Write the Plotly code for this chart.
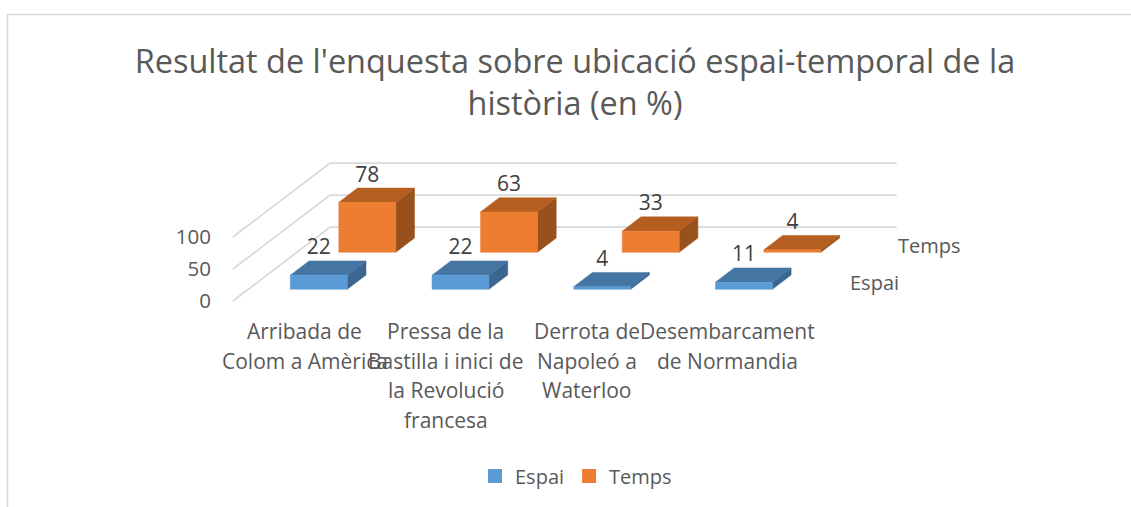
import plotly.graph_objects as go

TITLE = "Resultat de l'enquesta sobre ubicació espai-temporal de la<br>història (en %)"
categories = [
    ["Arribada de", "Colom a Amèrica"],
    ["Pressa de la", "Bastilla i inici de", "la Revolució", "francesa"],
    ["Derrota de", "Napoleó a", "Waterloo"],
    ["Desembarcament", "de Normandia"],
]
series_names = ["Espai", "Temps"]
espai = [22, 22, 4, 11]
temps = [78, 63, 33, 4]
value_ticks = [0, 50, 100]

FONT = "Open Sans"
GREY = "#595959"
FRONT = {"Espai": "#5B9BD5", "Temps": "#ED7D31"}
TOP = {"Espai": "#4475A3", "Temps": "#B45E20"}
SIDE = {"Espai": "#3A668F", "Temps": "#98511C"}
GRID = "#D9D9D9"

W, H = 1131, 507
PX_PER_CAT, PX_PER_VAL = 141.7, 0.64
ORIGIN_X, ORIGIN_Y = 233, 301
DEPTH_DX, DEPTH_DY = 97 / PX_PER_CAT, 74 / PX_PER_VAL
BAR_W, BAR_D = 0.402, 0.193


def proj(cat, depth, value):
    return cat + depth * DEPTH_DX, value + depth * DEPTH_DY


def poly(points, color, line=None):
    xy = [proj(*p) for p in points]
    return go.Scatter(
        x=[p[0] for p in xy] + [xy[0][0]], y=[p[1] for p in xy] + [xy[0][1]],
        mode="lines", fill="toself", fillcolor=color,
        line=dict(color=line or color, width=0.5),
        showlegend=False, hoverinfo="skip",
    )


fig = go.Figure()
n = len(categories)

for v in value_ticks:
    xy = [proj(0, 0, v), proj(0, 1, v), proj(n, 1, v)]
    fig.add_trace(go.Scatter(x=[p[0] for p in xy], y=[p[1] for p in xy], mode="lines",
                             line=dict(color=GRID, width=1.75), showlegend=False, hoverinfo="skip"))

label_x, label_y, label_t = [], [], []
for s_i, (name, values) in reversed(list(enumerate(zip(series_names, [espai, temps])))):
    d0 = (s_i + 0.5) / 2 - BAR_D / 2 + 0.005
    d1 = d0 + BAR_D
    for c, val in enumerate(values):
        x0 = c + 0.5 - BAR_W / 2 - 0.003
        x1 = x0 + BAR_W
        fig.add_trace(poly([(x1, d0, 0), (x1, d1, 0), (x1, d1, val), (x1, d0, val)], SIDE[name]))
        fig.add_trace(poly([(x0, d0, val), (x1, d0, val), (x1, d1, val), (x0, d1, val)], TOP[name]))
        fig.add_trace(poly([(x0, d0, 0), (x1, d0, 0), (x1, d0, val), (x0, d0, val)], FRONT[name]))
        lx, _ = proj((x0 + x1) / 2, d0, val)
        _, ly = proj(x0, d1, val)
        label_x.append(lx)
        label_y.append(ly + 18.3)
        label_t.append(str(val))

fig.add_trace(go.Scatter(x=label_x, y=label_y, text=label_t, mode="text", textposition="middle center",
                         textfont=dict(family=FONT, size=21, color="#404040"), showlegend=False, hoverinfo="skip"))

for name in series_names:
    fig.add_trace(go.Scatter(x=[None], y=[None], mode="markers", name=name,
                             marker=dict(symbol="square", size=14, color=FRONT[name])))

annotations = []
LINE_PX = 29.5
for c, lines in enumerate(categories):
    for i, text in enumerate(lines):
        annotations.append(dict(x=c + 0.5, y=0, xref="x", yref="y", text=text, showarrow=False,
                                xanchor="center", yanchor="middle", xshift=1 - 0.8 * c,
                                yshift=-(30 + i * LINE_PX),
                                font=dict(family=FONT, size=21, color=GREY)))
for s_i, name in enumerate(series_names):
    px, py = proj(n, (s_i + 0.5) / 2, 0)
    annotations.append(dict(x=px, y=py, xref="x", yref="y", text=name, showarrow=False,
                            xanchor="left", yanchor="middle", xshift=23.5,
                            font=dict(family=FONT, size=20, color=GREY)))

frame = dict(type="path", xref="paper", yref="paper",
             path=f"M {7.5 / W} 0 L {7.5 / W} {1 - 14.5 / H} L 1 {1 - 14.5 / H}",
             line=dict(color=GRID, width=1.5))

fig.update_layout(
    width=W, height=H, margin=dict(l=0, r=0, t=0, b=0), autosize=False,
    paper_bgcolor="white", plot_bgcolor="white", annotations=annotations, shapes=[frame],
    title=dict(text=TITLE, x=575 / W, xanchor="center", y=1 - 73 / H, yanchor="middle",
               font=dict(family=FONT, size=32.45, color=GREY)),
    legend=dict(orientation="h", x=475 / W, xanchor="left", y=1 - 476 / H, yanchor="middle",
                font=dict(family=FONT, size=20, color=GREY), bgcolor="rgba(0,0,0,0)"),
    xaxis=dict(range=[-ORIGIN_X / PX_PER_CAT, (W - ORIGIN_X) / PX_PER_CAT], visible=False, fixedrange=True),
    yaxis=dict(range=[-(H - ORIGIN_Y) / PX_PER_VAL, ORIGIN_Y / PX_PER_VAL], anchor="free", position=211 / W,
               tickvals=value_ticks, showgrid=False, zeroline=False, showline=False, ticks="",
               tickfont=dict(family=FONT, size=20.5, color=GREY), fixedrange=True),
)

fig.write_html("out.html", config=dict(displayModeBar=False),
               post_script="document.body.style.margin='0';")
